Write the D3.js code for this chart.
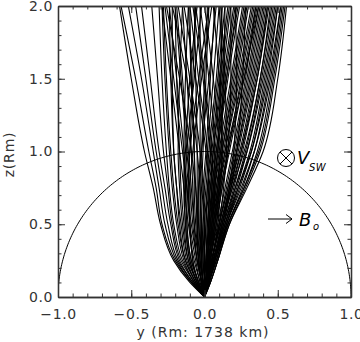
<!DOCTYPE html>
<html>
<head>
<meta charset="utf-8">
<script src="https://cdn.jsdelivr.net/npm/d3@7"></script>
<style>
  body { margin: 0; background: #fff; }
  text { font-family: "DejaVu Sans", sans-serif; }
</style>
</head>
<body>
<div id="chart"></div>
<script>
var zLevels = [0, 0.1, 0.25, 0.5, 0.75, 1.0, 1.5, 2.0];

// trajectories bending to -y
var leftTracks = [
  [0, -0.10, -0.21, -0.30, -0.35, -0.41, -0.50, -0.58],
  [0, -0.09, -0.20, -0.29, -0.33, -0.38, -0.47, -0.57],
  [0, -0.09, -0.19, -0.27, -0.31, -0.35, -0.43, -0.52],
  [0, -0.08, -0.18, -0.25, -0.29, -0.33, -0.40, -0.47],
  [0, -0.08, -0.17, -0.23, -0.27, -0.31, -0.37, -0.43],
  [0, -0.07, -0.16, -0.22, -0.25, -0.28, -0.32, -0.36],
  [0, -0.07, -0.15, -0.21, -0.24, -0.26, -0.29, -0.31],
  [0, -0.07, -0.14, -0.19, -0.22, -0.24, -0.27, -0.29],
  [0, -0.06, -0.13, -0.18, -0.21, -0.23, -0.26, -0.28],
  [0, -0.06, -0.13, -0.17, -0.19, -0.21, -0.23, -0.24],
  [0, -0.06, -0.12, -0.16, -0.19, -0.21, -0.22, -0.22],
  [0, -0.05, -0.11, -0.15, -0.17, -0.18, -0.17, -0.15],
  [0, -0.05, -0.11, -0.14, -0.16, -0.17, -0.19, -0.20],
  [0, -0.05, -0.10, -0.13, -0.14, -0.14, -0.13, -0.11],
  [0, -0.05, -0.10, -0.13, -0.14, -0.13, -0.10, -0.05],
  [0, -0.04, -0.09, -0.12, -0.13, -0.12, -0.07, -0.02],
  [0, -0.04, -0.09, -0.12, -0.12, -0.10, -0.04, 0.03],
  [0, -0.04, -0.08, -0.10, -0.11, -0.10, -0.08, -0.06],
  [0, -0.04, -0.08, -0.10, -0.10, -0.08, -0.02, 0.05]
];

// near-vertical trajectories in the middle of the fan
var centreTracks = [
  [0, -0.03, -0.07, -0.11, -0.14, -0.17, -0.23, -0.29],
  [0, -0.03, -0.06, -0.10, -0.12, -0.14, -0.19, -0.24],
  [0, -0.02, -0.05, -0.09, -0.12, -0.15, -0.21, -0.27],
  [0, -0.02, -0.05, -0.08, -0.10, -0.12, -0.16, -0.20],
  [0, -0.02, -0.04, -0.07, -0.09, -0.11, -0.15, -0.19],
  [0, -0.02, -0.05, -0.07, -0.08, -0.09, -0.12, -0.15],
  [0, -0.02, -0.04, -0.06, -0.07, -0.07, -0.09, -0.11],
  [0, -0.01, -0.03, -0.05, -0.06, -0.07, -0.09, -0.10],
  [0, -0.02, -0.04, -0.05, -0.05, -0.05, -0.06, -0.07],
  [0, -0.01, -0.03, -0.04, -0.04, -0.03, -0.03, -0.03],
  [0, -0.01, -0.03, -0.03, -0.02, -0.01, 0.01, 0.03],
  [0, -0.01, -0.02, -0.03, -0.03, -0.02, 0.00, 0.02],
  [0, -0.01, -0.02, -0.02, -0.01, 0.01, 0.04, 0.07],
  [0, -0.01, -0.02, -0.01, 0.01, 0.03, 0.08, 0.12],
  [0, 0.00, -0.01, -0.01, 0.00, 0.02, 0.06, 0.10],
  [0, -0.02, -0.04, -0.05, -0.04, -0.02, 0.03, 0.08],
  [0, 0.00, -0.01, 0.00, 0.02, 0.05, 0.10, 0.16],
  [0, 0.00, 0.00, 0.01, 0.02, 0.04, 0.09, 0.14],
  [0, 0.00, 0.00, 0.01, 0.03, 0.06, 0.12, 0.18],
  [0, 0.00, 0.01, 0.02, 0.04, 0.06, 0.11, 0.17],
  [0, 0.00, 0.01, 0.02, 0.04, 0.07, 0.13, 0.20],
  [0, 0.00, 0.01, 0.03, 0.05, 0.08, 0.15, 0.22],
  [0, 0.01, 0.01, 0.03, 0.05, 0.08, 0.14, 0.21],
  [0, 0.01, 0.02, 0.04, 0.06, 0.09, 0.16, 0.24],
  [0, 0.01, 0.02, 0.03, 0.06, 0.09, 0.15, 0.23],
  [0, 0.01, 0.02, 0.04, 0.07, 0.10, 0.18, 0.26],
  [0, 0.01, 0.02, 0.04, 0.07, 0.11, 0.19, 0.27],
  [0, 0.01, 0.02, 0.05, 0.08, 0.12, 0.20, 0.28],
  [0, 0.01, 0.02, 0.05, 0.08, 0.12, 0.21, 0.29],
  [0, 0.01, 0.03, 0.06, 0.09, 0.13, 0.22, 0.30],
  [0, 0.01, 0.03, 0.06, 0.10, 0.14, 0.23, 0.32],
  [0, 0.01, 0.03, 0.05, 0.09, 0.14, 0.24, 0.33],
  [0, 0.01, 0.03, 0.07, 0.11, 0.16, 0.25, 0.34],
  [0, 0.01, 0.03, 0.06, 0.10, 0.15, 0.26, 0.35],
  [0, 0.02, 0.04, 0.08, 0.12, 0.17, 0.27, 0.36],
  [0, 0.02, 0.03, 0.07, 0.11, 0.16, 0.27, 0.37],
  [0, 0.02, 0.05, 0.09, 0.11, 0.12, 0.10, 0.06],
  [0, 0.02, 0.04, 0.07, 0.10, 0.12, 0.12, 0.10],
  [0, 0.02, 0.05, 0.10, 0.13, 0.15, 0.14, 0.11],
  [0, 0.02, 0.04, 0.08, 0.12, 0.16, 0.18, 0.18],
  [0, 0.01, 0.03, 0.06, 0.07, 0.07, 0.03, -0.03],
  [0, 0.02, 0.04, 0.08, 0.10, 0.10, 0.06, 0.00],
  [0, 0.02, 0.06, 0.12, 0.17, 0.20, 0.22, 0.21],
  [0, 0.03, 0.07, 0.13, 0.18, 0.22, 0.26, 0.28],
  [0, 0.01, 0.02, 0.03, 0.03, 0.02, -0.04, -0.10],
  [0, 0.01, 0.03, 0.05, 0.06, 0.05, 0.00, -0.06],
  [0, 0.01, 0.02, 0.04, 0.05, 0.04, -0.01, -0.08],
  [0, 0.01, 0.02, 0.03, 0.03, 0.01, -0.06, -0.14],
  [0, 0.00, 0.00, 0.00, -0.01, -0.03, -0.10, -0.18],
  [0, 0.00, -0.01, -0.02, -0.03, -0.05, -0.12, -0.22],
  [0, -0.01, -0.02, -0.04, -0.06, -0.09, -0.17, -0.26],
  [0, 0.02, 0.04, 0.07, 0.09, 0.11, 0.13, 0.14],
  [0, 0.01, 0.03, 0.05, 0.07, 0.09, 0.11, 0.12]
];

// trajectories leaning to +y
var rightTracks = [
  [0, 0.04, 0.09, 0.17, 0.29, 0.40, 0.50, 0.56],
  [0, 0.04, 0.09, 0.17, 0.28, 0.38, 0.48, 0.55],
  [0, 0.03, 0.07, 0.16, 0.27, 0.37, 0.47, 0.54],
  [0, 0.04, 0.09, 0.16, 0.27, 0.36, 0.46, 0.53],
  [0, 0.03, 0.07, 0.15, 0.25, 0.34, 0.45, 0.52],
  [0, 0.03, 0.08, 0.16, 0.26, 0.34, 0.44, 0.52],
  [0, 0.03, 0.08, 0.15, 0.24, 0.32, 0.42, 0.50],
  [0, 0.02, 0.06, 0.14, 0.23, 0.32, 0.43, 0.50],
  [0, 0.03, 0.08, 0.15, 0.23, 0.31, 0.41, 0.49],
  [0, 0.02, 0.06, 0.13, 0.21, 0.29, 0.40, 0.48],
  [0, 0.03, 0.07, 0.14, 0.22, 0.29, 0.39, 0.47],
  [0, 0.03, 0.07, 0.14, 0.21, 0.28, 0.38, 0.46],
  [0, 0.02, 0.06, 0.12, 0.19, 0.27, 0.38, 0.45],
  [0, 0.02, 0.06, 0.13, 0.20, 0.26, 0.36, 0.44],
  [0, 0.02, 0.06, 0.12, 0.19, 0.25, 0.35, 0.43],
  [0, 0.02, 0.05, 0.11, 0.18, 0.25, 0.36, 0.43],
  [0, 0.02, 0.06, 0.12, 0.18, 0.23, 0.33, 0.41],
  [0, 0.02, 0.05, 0.11, 0.17, 0.24, 0.34, 0.42],
  [0, 0.02, 0.05, 0.11, 0.17, 0.22, 0.31, 0.39],
  [0, 0.02, 0.05, 0.10, 0.16, 0.22, 0.32, 0.40],
  [0, 0.02, 0.05, 0.10, 0.16, 0.21, 0.30, 0.38],
  [0, 0.02, 0.05, 0.10, 0.15, 0.20, 0.29, 0.37],
  [0, 0.02, 0.04, 0.09, 0.14, 0.19, 0.28, 0.35]
];

var xTicks = [-1.0, -0.5, 0.0, 0.5, 1.0];
var yTicks = [0.0, 0.5, 1.0, 1.5, 2.0];

function init() {
  var w = 360;
  var h = 342;
  var left = 58, right = 351, top = 6, bottom = 297;

  var svg = d3.select("#chart")
              .append("svg")
              .attr("width", w)
              .attr("height", h);

  var x = d3.scaleLinear().domain([-1, 1]).range([left, right]);
  var y = d3.scaleLinear().domain([0, 2]).range([bottom, top]);

  var minorX = d3.range(-1, 1.0001, 0.1);
  var minorY = d3.range(0, 2.0001, 0.1);
  var fmt = function(d) { return d3.format(".1f")(d).replace("-", "\u2212"); };

  svg.append("defs").append("clipPath").attr("id", "plotclip")
     .append("rect")
     .attr("x", left).attr("y", top)
     .attr("width", right - left).attr("height", bottom - top);

  var plot = svg.append("g").attr("clip-path", "url(#plotclip)");

  // trajectories
  var line = d3.line()
               .x(function(d) { return x(d[0]); })
               .y(function(d) { return y(d[1]); })
               .curve(d3.curveMonotoneY);

  var tracks = leftTracks.concat(centreTracks, rightTracks);
  plot.selectAll("path.track")
      .data(tracks)
      .enter()
      .append("path")
      .attr("class", "track")
      .attr("fill", "none")
      .attr("stroke", "#000")
      .attr("stroke-width", 1.1)
      .attr("d", function(t) {
        return line(t.map(function(v, i) { return [v, zLevels[i]]; }));
      });

  // unit circle (lunar surface)
  var angles = d3.range(0, 180.5, 1);
  var circle = d3.line()
                 .x(function(a) { return x(Math.cos(a * Math.PI / 180)); })
                 .y(function(a) { return y(Math.sin(a * Math.PI / 180)); });
  plot.append("path")
      .attr("d", circle(angles))
      .attr("fill", "none")
      .attr("stroke", "#000")
      .attr("stroke-width", 1);

  // axes, ticks pointing in on all four sides
  var axisColor = "#333";
  function styleAxis(g) {
    g.selectAll("line").attr("stroke", axisColor);
    g.selectAll(".domain").attr("stroke", axisColor).attr("stroke-width", 1.3);
    g.selectAll("text").attr("fill", "#333").attr("font-size", "14px")
     .attr("letter-spacing", "0.6px")
     .attr("font-family", "DejaVu Sans, sans-serif");
  }

  svg.append("g").attr("transform", "translate(0," + bottom + ")")
     .call(d3.axisBottom(x).tickValues(minorX).tickSize(-3.5).tickFormat("").tickSizeOuter(0))
     .call(styleAxis);
  svg.append("g").attr("transform", "translate(0," + bottom + ")")
     .call(d3.axisBottom(x).tickValues(xTicks).tickSize(-7).tickPadding(12).tickFormat(fmt).tickSizeOuter(0))
     .call(styleAxis);
  svg.append("g").attr("transform", "translate(0," + top + ")")
     .call(d3.axisTop(x).tickValues(minorX).tickSize(-3.5).tickFormat("").tickSizeOuter(0))
     .call(styleAxis);
  svg.append("g").attr("transform", "translate(0," + top + ")")
     .call(d3.axisTop(x).tickValues(xTicks).tickSize(-7).tickFormat("").tickSizeOuter(0))
     .call(styleAxis);

  svg.append("g").attr("transform", "translate(" + left + ",0)")
     .call(d3.axisLeft(y).tickValues(minorY).tickSize(-3.5).tickFormat("").tickSizeOuter(0))
     .call(styleAxis);
  svg.append("g").attr("transform", "translate(" + left + ",0)")
     .call(d3.axisLeft(y).tickValues(yTicks).tickSize(-7).tickPadding(5).tickFormat(fmt).tickSizeOuter(0))
     .call(styleAxis);
  svg.append("g").attr("transform", "translate(" + right + ",0)")
     .call(d3.axisRight(y).tickValues(minorY).tickSize(-3.5).tickFormat("").tickSizeOuter(0))
     .call(styleAxis);
  svg.append("g").attr("transform", "translate(" + right + ",0)")
     .call(d3.axisRight(y).tickValues(yTicks).tickSize(-7).tickFormat("").tickSizeOuter(0))
     .call(styleAxis);

  // axis titles
  svg.append("text")
     .attr("x", 203)
     .attr("y", 337)
     .attr("text-anchor", "middle")
     .attr("font-size", "14px")
     .attr("letter-spacing", "1px")
     .attr("fill", "#333")
     .text("y (Rm: 1738 km)");

  svg.append("text")
     .attr("transform", "translate(14," + ((top + bottom) / 2 + 3) + ") rotate(-90)")
     .attr("text-anchor", "middle")
     .attr("font-size", "14px")
     .attr("letter-spacing", "0.8px")
     .attr("fill", "#333")
     .text("z(Rm)");

  // solar wind direction (into the page) and field direction
  var ann = svg.append("g");
  ann.append("circle").attr("cx", 286).attr("cy", 158).attr("r", 8.5)
     .attr("fill", "none").attr("stroke", "#000").attr("stroke-width", 1);
  ann.append("path")
     .attr("d", "M280,152L292,164M292,152L280,164")
     .attr("stroke", "#000").attr("stroke-width", 1);
  ann.append("text").attr("x", 297).attr("y", 164)
     .attr("font-family", "DejaVu Serif, serif").attr("font-style", "italic")
     .attr("font-size", "18px").text("V");
  ann.append("text").attr("x", 309).attr("y", 171)
     .attr("font-family", "DejaVu Serif, serif").attr("font-style", "italic")
     .attr("letter-spacing", "0.5px")
     .attr("font-size", "10px").text("SW");

  ann.append("path")
     .attr("d", "M268,219H292M286,214.5L292,219L286,223.5")
     .attr("fill", "none").attr("stroke", "#000").attr("stroke-width", 1);
  ann.append("text").attr("x", 299).attr("y", 226)
     .attr("font-family", "DejaVu Serif, serif").attr("font-style", "italic")
     .attr("font-size", "18px").text("B");
  ann.append("text").attr("x", 313).attr("y", 230)
     .attr("font-family", "DejaVu Serif, serif").attr("font-style", "italic")
     .attr("font-size", "10px").text("o");
}

window.onload = init;
</script>
</body>
</html>
